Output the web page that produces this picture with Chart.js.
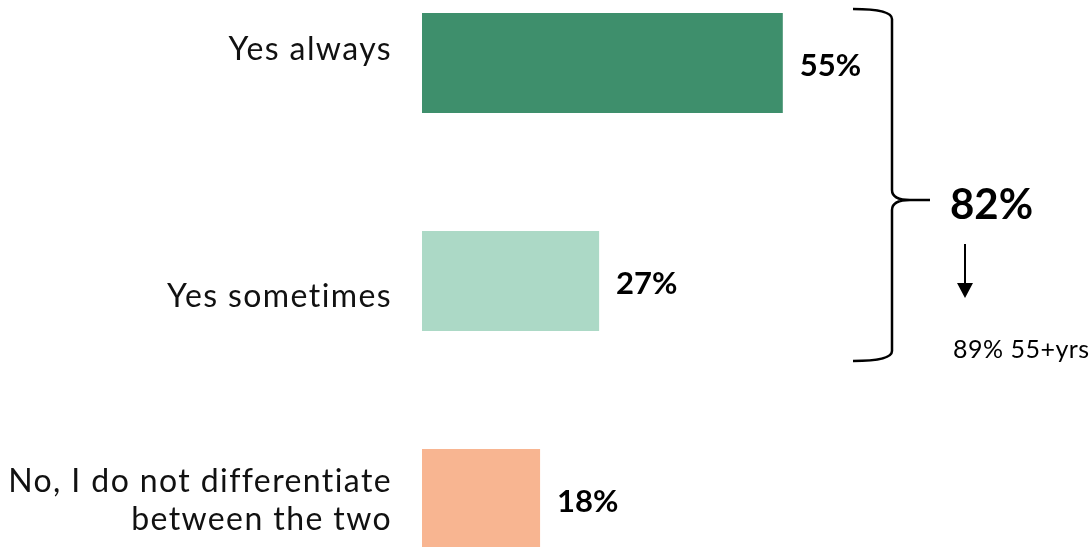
<!DOCTYPE html>
<html>
<head>
<meta charset="utf-8">
<script src="https://cdn.jsdelivr.net/npm/chart.js@4"></script>
<style>
  html, body { margin: 0; padding: 0; background: #fff; overflow: hidden; }
  #wrap { position: absolute; left: 0; top: -46px; width: 1091px; height: 654px; }
</style>
</head>
<body>
<div id="wrap"><canvas id="answer-chart"></canvas></div>
<script>
// Survey answers
const categories = ["Yes always", "Yes sometimes", ["No, I do not differentiate", "between the two"]];
const shares = [55, 27, 18];
const barColors = ["#3e8f6c", "#acd9c6", "#f8b591"];

// Combined "yes" callout
const yesTotal = "82%";
const yesNote = "89% 55+yrs";

const FONT = "Lato, 'Open Sans', sans-serif";

document.addEventListener("DOMContentLoaded", () => {
  // Category names to the left of the bars
  const categoryLabels = {
    id: "categoryLabels",
    afterDraw(chart) {
      const { ctx, scales: { y }, chartArea } = chart;
      const shift = [-13, 16, 2];
      ctx.save();
      ctx.font = "32px " + FONT;
      ctx.letterSpacing = "1.4px";
      ctx.fillStyle = "#111";
      ctx.textAlign = "right";
      ctx.textBaseline = "middle";
      categories.forEach((label, i) => {
        const lines = Array.isArray(label) ? label : [label];
        const cy = y.getPixelForValue(i) + shift[i];
        const lh = 38;
        lines.forEach((line, j) => {
          ctx.fillText(line, chartArea.left - 30, cy + (j - (lines.length - 1) / 2) * lh);
        });
      });
      ctx.restore();
    }
  };

  // Percent values at the end of each bar
  const valueLabels = {
    id: "valueLabels",
    afterDatasetsDraw(chart) {
      const { ctx } = chart;
      const meta = chart.getDatasetMeta(0);
      ctx.save();
      ctx.font = "bold 31px " + FONT;
      ctx.fillStyle = "#000";
      ctx.textAlign = "left";
      ctx.textBaseline = "middle";
      meta.data.forEach((bar, i) => {
        ctx.fillText(shares[i] + "%", bar.x + 17, bar.y + 3);
      });
      ctx.restore();
    }
  };

  // Brace grouping the two "yes" bars, with the total and a note
  const yesBrace = {
    id: "yesBrace",
    afterDraw(chart) {
      const { ctx } = chart;
      const meta = chart.getDatasetMeta(0);
      const top = meta.data[0].y - meta.data[0].height / 2 - 4;
      const bottom = meta.data[1].y + meta.data[1].height / 2 + 30;
      const mid = top + 191;
      const x0 = 853, xv = 892, xp = 930, r = 10;

      ctx.save();
      ctx.strokeStyle = "#000";
      ctx.lineWidth = 2.5;
      ctx.beginPath();
      ctx.moveTo(x0, top);
      ctx.quadraticCurveTo(xv, top, xv, top + r);
      ctx.lineTo(xv, mid - r);
      ctx.quadraticCurveTo(xv, mid, xp - 20, mid);
      ctx.lineTo(xp, mid);
      ctx.moveTo(xp - 20, mid);
      ctx.quadraticCurveTo(xv, mid, xv, mid + r);
      ctx.lineTo(xv, bottom - r);
      ctx.quadraticCurveTo(xv, bottom, x0, bottom);
      ctx.stroke();

      ctx.fillStyle = "#000";
      ctx.textAlign = "left";
      ctx.textBaseline = "middle";
      ctx.font = "bold 42px " + FONT;
      ctx.fillText(yesTotal, 950, mid + 5);

      // down arrow
      const ax = 965, ay = mid + 44;
      ctx.lineWidth = 2;
      ctx.beginPath();
      ctx.moveTo(ax, ay);
      ctx.lineTo(ax, ay + 42);
      ctx.stroke();
      ctx.beginPath();
      ctx.moveTo(ax - 8, ay + 39);
      ctx.lineTo(ax + 8, ay + 39);
      ctx.lineTo(ax, ay + 54);
      ctx.closePath();
      ctx.fill();

      ctx.font = "25px " + FONT;
      ctx.letterSpacing = "0.5px";
      ctx.fillText(yesNote, 953, mid + 150);
      ctx.restore();
    }
  };

  const data = {
    labels: categories,
    datasets: [{
      data: shares,
      backgroundColor: barColors,
      categoryPercentage: 1,
      barPercentage: 0.459,
    }],
  };

  const config = {
    type: "bar",
    data: data,
    options: {
      indexAxis: "y",
      responsive: true,
      maintainAspectRatio: false,
      animation: false,
      layout: { padding: { left: 422, right: 13, top: 0, bottom: 0 } },
      scales: {
        x: { display: false, min: 0, max: 100 },
        y: { display: false },
      },
      plugins: {
        legend: { display: false },
        tooltip: { enabled: false },
      },
    },
    plugins: [categoryLabels, valueLabels, yesBrace],
  };

  const ctx = document.getElementById("answer-chart").getContext("2d");
  new Chart(ctx, config);
});
</script>
</body>
</html>
